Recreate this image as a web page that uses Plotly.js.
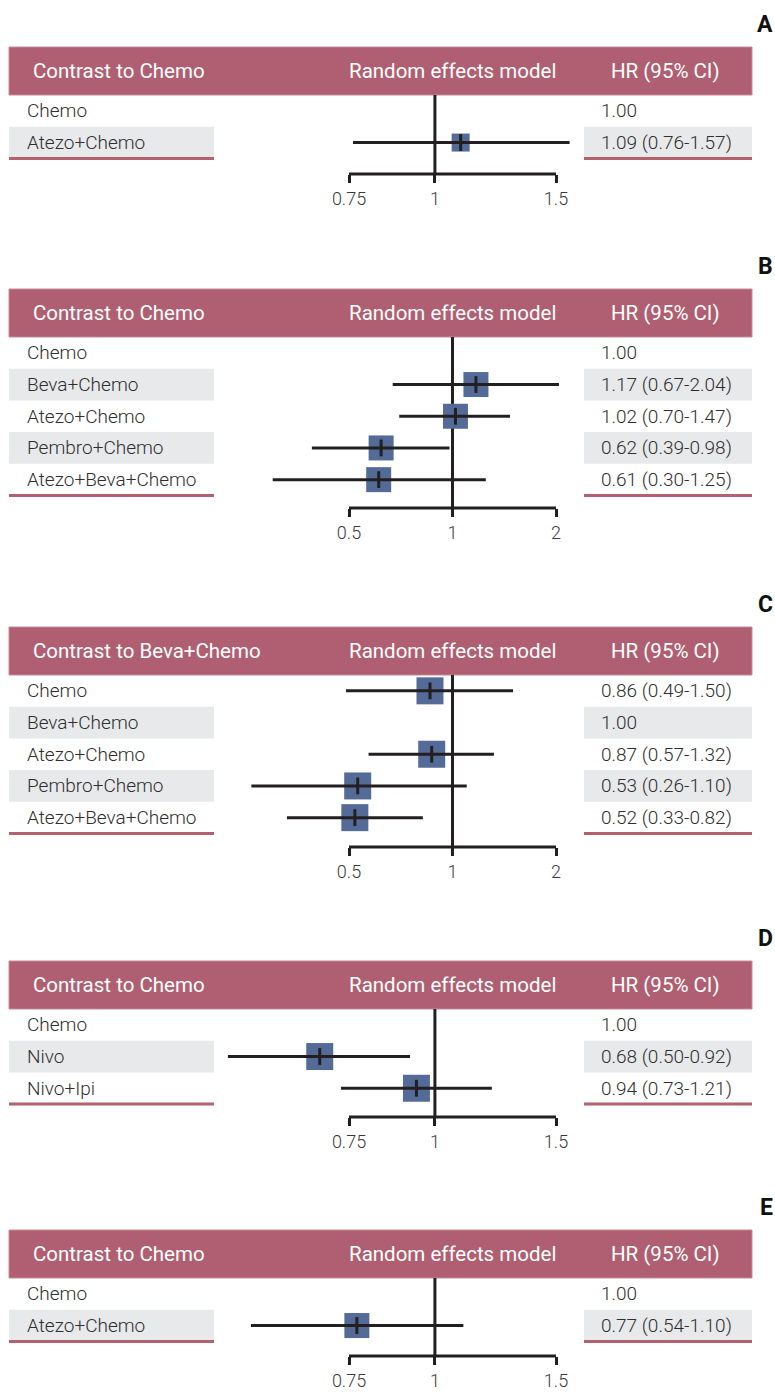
<!DOCTYPE html>
<html>
<head>
<meta charset="utf-8">
<script src="https://cdn.plot.ly/plotly-3.0.1.min.js"></script>
<style>
  html, body { margin: 0; padding: 0; background: #ffffff; }
  #chart { width: 775px; height: 1392px; }
</style>
</head>
<body>
<div id="chart"></div>
<script>
// ---------------- DATA ----------------
const panelLetters = ['A', 'B', 'C', 'D', 'E'];
const contrastLabels = ['Contrast to Chemo', 'Contrast to Chemo', 'Contrast to Beva+Chemo', 'Contrast to Chemo', 'Contrast to Chemo'];
const modelLabel = 'Random effects model';
const hrHeader = 'HR (95% CI)';

// Panel A
const treatmentsA = ['Chemo', 'Atezo+Chemo'];
const hrA = [1.00, 1.09];
const lowerA = [null, 0.76];
const upperA = [null, 1.57];
const ticksA = [0.75, 1, 1.5];
const tickTextA = ['0.75', '1', '1.5'];

// Panel B
const treatmentsB = ['Chemo', 'Beva+Chemo', 'Atezo+Chemo', 'Pembro+Chemo', 'Atezo+Beva+Chemo'];
const hrB = [1.00, 1.17, 1.02, 0.62, 0.61];
const lowerB = [null, 0.67, 0.70, 0.39, 0.30];
const upperB = [null, 2.04, 1.47, 0.98, 1.25];
const ticksB = [0.5, 1, 2];
const tickTextB = ['0.5', '1', '2'];

// Panel C
const treatmentsC = ['Chemo', 'Beva+Chemo', 'Atezo+Chemo', 'Pembro+Chemo', 'Atezo+Beva+Chemo'];
const hrC = [0.86, 1.00, 0.87, 0.53, 0.52];
const lowerC = [0.49, null, 0.57, 0.26, 0.33];
const upperC = [1.50, null, 1.32, 1.10, 0.82];
const ticksC = [0.5, 1, 2];
const tickTextC = ['0.5', '1', '2'];

// Panel D
const treatmentsD = ['Chemo', 'Nivo', 'Nivo+Ipi'];
const hrD = [1.00, 0.68, 0.94];
const lowerD = [null, 0.50, 0.73];
const upperD = [null, 0.92, 1.21];
const ticksD = [0.75, 1, 1.5];
const tickTextD = ['0.75', '1', '1.5'];

// Panel E
const treatmentsE = ['Chemo', 'Atezo+Chemo'];
const hrE = [1.00, 0.77];
const lowerE = [null, 0.54];
const upperE = [null, 1.10];
const ticksE = [0.75, 1, 1.5];
const tickTextE = ['0.75', '1', '1.5'];

const panels = [
  { treat: treatmentsA, hr: hrA, lo: lowerA, hi: upperA, ticks: ticksA, tickText: tickTextA },
  { treat: treatmentsB, hr: hrB, lo: lowerB, hi: upperB, ticks: ticksB, tickText: tickTextB },
  { treat: treatmentsC, hr: hrC, lo: lowerC, hi: upperC, ticks: ticksC, tickText: tickTextC },
  { treat: treatmentsD, hr: hrD, lo: lowerD, hi: upperD, ticks: ticksD, tickText: tickTextD },
  { treat: treatmentsE, hr: hrE, lo: lowerE, hi: upperE, ticks: ticksE, tickText: tickTextE }
];

// ---------------- LAYOUT / STYLE ----------------
const W = 775, H = 1392;
const headerTopPx = [47, 289, 627, 961, 1230];
const axisLinePx = [174, 508, 847, 1117, 1356];
const boxSizePx = [18, 25, 27, 27, 25];
const HEADER_H = 48, ROW_H = 31.7;
const LEFT_X0 = 9, LEFT_X1 = 214, RIGHT_X0 = 584, RIGHT_X1 = 752;
const TICK_LO_PX = 349, TICK_HI_PX = 556;
const LABEL_X = 25, HR_X = 599;

const FONT = 'Roboto, "Open Sans", sans-serif';
const HEADER_COL = '#AF5F71';
const UNDER_COL = '#B3606F';
const BAND_COL = '#E8E9EB';
const BOX_COL = '#546B98';
const INK = '#231F20';
const TEXT_COL = '#2E2E2E';

const px2x = p => p / W;
const px2y = p => 1 - p / H;

const traces = [];
const shapes = [];
const annotations = [];
const layout = {
  width: W, height: H,
  margin: { l: 0, r: 0, t: 0, b: 0, pad: 0 },
  paper_bgcolor: '#ffffff', plot_bgcolor: 'rgba(0,0,0,0)',
  showlegend: false,
  font: { family: FONT, color: TEXT_COL }
};

panels.forEach((p, k) => {
  const s = k === 0 ? '' : String(k + 1);
  const xa = 'x' + s, ya = 'y' + s;
  const hTop = headerTopPx[k];
  const hb = hTop + HEADER_H;
  const axisPx = axisLinePx[k];
  const n = p.treat.length;

  // x axis: log scale; outer ticks mapped to fixed pixel columns
  const tLo = Math.min(...p.ticks), tHi = Math.max(...p.ticks);
  const ppd = (TICK_HI_PX - TICK_LO_PX) / (Math.log10(tHi) - Math.log10(tLo));
  const xr = [Math.log10(tLo) - TICK_LO_PX / ppd, Math.log10(tHi) + (W - TICK_HI_PX) / ppd];
  layout['xaxis' + s] = {
    type: 'log', domain: [0, 1], range: xr, anchor: ya,
    tickvals: p.ticks, ticktext: p.tickText,
    ticks: 'outside', ticklen: 8, tickwidth: 3, tickcolor: INK,
    showgrid: false, zeroline: false, showline: false,
    tickfont: { family: FONT, size: 18, color: '#3A3A3A', weight: 300 },
    ticklabelstandoff: 0, fixedrange: true
  };
  layout['yaxis' + s] = {
    domain: [px2y(axisPx), px2y(hb)],
    range: [(axisPx - hb) / ROW_H - 0.5, -0.5],
    anchor: xa, visible: false, showgrid: false, zeroline: false, fixedrange: true
  };

  // header bar
  shapes.push({ type: 'rect', xref: 'paper', yref: 'paper', layer: 'below',
    x0: px2x(LEFT_X0), x1: px2x(RIGHT_X1), y0: px2y(hb), y1: px2y(hTop),
    fillcolor: HEADER_COL, line: { width: 1, color: '#C98A98' } });

  // alternating row bands
  p.treat.forEach((t, i) => {
    if (i % 2 === 1) {
      [[LEFT_X0, LEFT_X1], [RIGHT_X0, RIGHT_X1]].forEach(([a, b]) => {
        shapes.push({ type: 'rect', xref: 'paper', yref: ya, layer: 'below',
          x0: px2x(a), x1: px2x(b), y0: i - 0.5, y1: i + 0.5,
          fillcolor: BAND_COL, line: { width: 0 } });
      });
    }
  });
  // underline beneath last row
  [[LEFT_X0, LEFT_X1], [RIGHT_X0, RIGHT_X1]].forEach(([a, b]) => {
    shapes.push({ type: 'line', xref: 'paper', yref: ya, layer: 'below',
      x0: px2x(a), x1: px2x(b), y0: n - 0.5, y1: n - 0.5,
      line: { color: UNDER_COL, width: 3 } });
  });
  // reference line at HR = 1
  shapes.push({ type: 'line', xref: xa, yref: ya + ' domain', layer: 'below',
    x0: 1, x1: 1, y0: 0, y1: 1, line: { color: INK, width: 3 } });
  // axis line between outer ticks
  shapes.push({ type: 'line', xref: xa, yref: ya + ' domain', layer: 'above',
    x0: tLo, x1: tHi, y0: 0, y1: 0, line: { color: INK, width: 3 } });

  // data marks
  const bx = [], by = [], lx = [], ly = [];
  p.treat.forEach((t, i) => {
    if (p.lo[i] !== null) {
      bx.push(p.hr[i]); by.push(i);
      lx.push(p.lo[i], p.hi[i], null); ly.push(i, i, null);
    }
  });
  traces.push({ type: 'scatter', mode: 'markers', x: bx, y: by, xaxis: xa, yaxis: ya,
    marker: { symbol: 'square', size: boxSizePx[k], color: BOX_COL, line: { width: 0 } },
    hoverinfo: 'skip', cliponaxis: false });
  traces.push({ type: 'scatter', mode: 'lines', x: lx, y: ly, xaxis: xa, yaxis: ya,
    line: { color: INK, width: 3 }, hoverinfo: 'skip', cliponaxis: false });
  traces.push({ type: 'scatter', mode: 'markers', x: bx, y: by, xaxis: xa, yaxis: ya,
    marker: { symbol: 'line-ns', size: 12, color: INK, line: { width: 3, color: INK } },
    hoverinfo: 'skip', cliponaxis: false });

  // panel letter
  annotations.push({ xref: 'paper', yref: 'paper', x: 1, y: px2y(hTop - 23),
    xanchor: 'right', yanchor: 'middle', showarrow: false, text: '<b>' + panelLetters[k] + '</b>',
    font: { family: FONT, size: 23, color: '#111111' } });
  // header texts
  const hy = px2y(hTop + HEADER_H / 2);
  annotations.push({ xref: 'paper', yref: 'paper', x: px2x(31), y: hy, xanchor: 'left', yanchor: 'middle',
    showarrow: false, text: contrastLabels[k], font: { family: FONT, size: 20.5, color: '#FFFFFF' } });
  annotations.push({ xref: 'paper', yref: 'paper', x: px2x(452.5), y: hy, xanchor: 'center', yanchor: 'middle',
    showarrow: false, text: modelLabel, font: { family: FONT, size: 20.5, color: '#FFFFFF' } });
  annotations.push({ xref: 'paper', yref: 'paper', x: px2x(665.5), y: hy, xanchor: 'center', yanchor: 'middle',
    showarrow: false, text: hrHeader, font: { family: FONT, size: 20.5, color: '#FFFFFF' } });

  // row labels and HR texts
  p.treat.forEach((t, i) => {
    annotations.push({ xref: 'paper', yref: ya, x: px2x(LABEL_X), y: i, xanchor: 'left', yanchor: 'middle',
      showarrow: false, text: t, font: { family: FONT, size: 19, color: TEXT_COL, weight: 300 } });
    const hrTxt = p.lo[i] === null ? p.hr[i].toFixed(2)
      : p.hr[i].toFixed(2) + ' (' + p.lo[i].toFixed(2) + '-' + p.hi[i].toFixed(2) + ')';
    annotations.push({ xref: 'paper', yref: ya, x: px2x(HR_X), y: i, xanchor: 'left', yanchor: 'middle',
      showarrow: false, text: hrTxt, font: { family: FONT, size: 19, color: TEXT_COL, weight: 300 } });
  });
});

layout.shapes = shapes;
layout.annotations = annotations;

Plotly.newPlot('chart', traces, layout, { staticPlot: true, displayModeBar: false });
</script>
</body>
</html>
